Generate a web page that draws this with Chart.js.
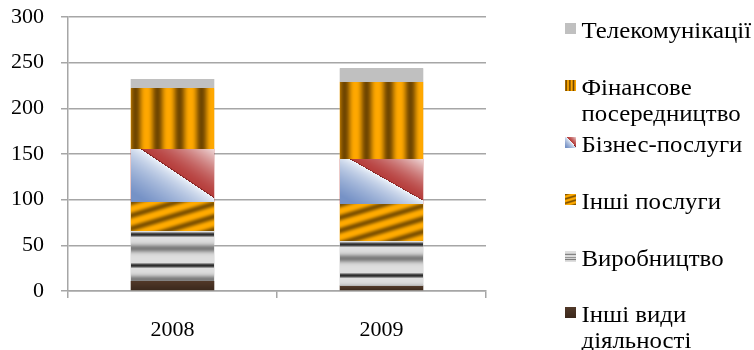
<!DOCTYPE html>
<html>
<head>
<meta charset="utf-8">
<script src="https://cdn.jsdelivr.net/npm/chart.js@4.4.1/dist/chart.umd.min.js"></script>
<style>
  html, body { margin: 0; padding: 0; background: #fff; }
  #wrap { width: 754px; height: 350px; position: relative; }
</style>
</head>
<body>
<div id="wrap"><canvas id="chart"></canvas></div>
<script>
// дані (читано з картинки)
const categories = ['2008', '2009'];
const otherActivities = [11, 6];
const manufacturing = [55, 49];
const otherServices = [31.5, 40];
const businessServices = [58.5, 50];
const finance = [66, 84];
const telecom = [10, 15];
const yTickValues = [0, 50, 100, 150, 200, 250, 300];

const seriesLabels = ['Інші види діяльності', 'Виробництво', 'Інші послуги', 'Бізнес-послуги', 'Фінансове посередництво', 'Телекомунікації'];
const legendLines = [['Інші види', 'діяльності'], ['Виробництво'], ['Інші послуги'], ['Бізнес-послуги'], ['Фінансове', 'посередництво'], ['Телекомунікації']];
const fillKinds = ['brown', 'hstripe', 'diag', 'split', 'vstripe', 'flat'];
const baseColors = ['#45301f', '#bdbdbd', '#f0a000', '#c0504d', '#e89a00', '#c0c0c0'];

const FONT = '"Liberation Serif", "Times New Roman", serif';
const GRID = '#a6a6a6';

function mix(a, b, t) {
    return [a[0] + (b[0] - a[0]) * t, a[1] + (b[1] - a[1]) * t, a[2] + (b[2] - a[2]) * t];
}

// колір пікселя для кожного типу заливки
function shade(kind, u, v, w, h, k) {
    if (kind === 'flat') return [192, 192, 192];
    if (kind === 'brown') return mix([80, 56, 40], [58, 40, 28], Math.min(1, v / Math.max(h, 1)));
    if (kind === 'hstripe') {
        const P = 31 / k;
        let p = ((v - 3 / k) % P + P) % P / P;
        const dp = Math.min(p, 1 - p) * P * k;
        const g = Math.exp(-Math.pow((p - 0.45) / 0.13, 2));
        let c = mix([222, 222, 222], [125, 125, 125], g);
        if (dp < 0.9) c = [45, 45, 45];
        else if (dp < 3) c = mix([70, 70, 70], c, (dp - 0.9) / 2.1);
        return c;
    }
    if (kind === 'diag') {
        const ph = (v + 0.3 * u) * k / 13;
        const c = 0.5 + 0.5 * Math.cos(2 * Math.PI * ph);
        return mix([255, 170, 0], [130, 84, 0], Math.pow(c, 1.4));
    }
    if (kind === 'vstripe') {
        const ph = (u - 4 / k) * k / 22;
        const c = 0.5 + 0.5 * Math.cos(2 * Math.PI * ph);
        return mix([255, 168, 0], [112, 70, 0], Math.pow(c, 1.3));
    }
    if (kind === 'split') {
        const t = (u / w - 0.12) / 0.88 - v / (0.92 * h);
        if (t > 0) {
            if (t < 0.03) return mix([120, 30, 30], [178, 62, 60], t / 0.03);
            return mix([182, 62, 60], [238, 215, 215], Math.pow(Math.min(t, 1), 1.5));
        }
        const s = Math.min(1, -t);
        return mix([244, 248, 252], [118, 146, 198], Math.pow(s, 0.65));
    }
    return [0, 0, 0];
}

function makeFill(kind, w, h, k) {
    w = Math.max(1, Math.round(w));
    h = Math.max(1, Math.round(h));
    const off = document.createElement('canvas');
    off.width = w; off.height = h;
    const octx = off.getContext('2d');
    const img = octx.createImageData(w, h);
    for (let v = 0; v < h; v++) {
        for (let u = 0; u < w; u++) {
            const c = shade(kind, u, v, w, h, k);
            const i = (v * w + u) * 4;
            img.data[i] = c[0]; img.data[i + 1] = c[1]; img.data[i + 2] = c[2]; img.data[i + 3] = 255;
        }
    }
    octx.putImageData(img, 0, 0);
    return off;
}

// перемальовуємо стовпчики текстурою поверх елементів Chart.js
const texturePlugin = {
    id: 'texture',
    afterDatasetsDraw(chart) {
        const ctx = chart.ctx;
        chart.data.datasets.forEach((ds, di) => {
            const meta = chart.getDatasetMeta(di);
            meta.data.forEach(el => {
                const p = el.getProps(['x', 'y', 'base', 'width'], true);
                const x0 = Math.round(p.x - p.width / 2);
                const x1 = Math.round(p.x + p.width / 2);
                const y0 = Math.round(Math.min(p.y, p.base));
                const y1 = Math.round(Math.max(p.y, p.base));
                if (y1 - y0 < 1) return;
                ctx.drawImage(makeFill(fillKinds[di], x1 - x0, y1 - y0, 1), x0, y0);
            });
        });
    }
};

// легенда праворуч
const legendScale = [1, 6, 3, 1, 6, 1];
const legendPlugin = {
    id: 'sideLegend',
    afterDraw(chart) {
        const ctx = chart.ctx;
        ctx.save();
        ctx.font = '23px ' + FONT;
        ctx.fillStyle = '#000';
        ctx.textBaseline = 'alphabetic';
        const n = legendLines.length;
        for (let j = 0; j < n; j++) {
            const di = n - 1 - j;
            const base = 38.3 + j * 56.8;
            ctx.drawImage(makeFill(fillKinds[di], 11, 11, legendScale[di]), 565, Math.round(base - 15));
            legendLines[di].forEach((line, li) => {
                ctx.save();
                ctx.translate(581.5, base + li * 26);
                ctx.scale(1.08, 1);
                ctx.fillText(line, 0, 0);
                ctx.restore();
            });
        }
        ctx.restore();
    }
};

const datasetValues = [otherActivities, manufacturing, otherServices, businessServices, finance, telecom];

new Chart(document.getElementById('chart').getContext('2d'), {
    type: 'bar',
    data: {
        labels: categories,
        datasets: datasetValues.map((vals, i) => ({
            label: seriesLabels[i],
            data: vals,
            backgroundColor: baseColors[i],
            borderWidth: 0,
            barPercentage: 0.4,
            categoryPercentage: 1
        }))
    },
    options: {
        responsive: true,
        maintainAspectRatio: false,
        animation: false,
        layout: { padding: { top: 17, right: 268, left: 0, bottom: 0 } },
        plugins: { legend: { display: false }, tooltip: { enabled: false } },
        scales: {
            x: {
                stacked: true,
                grid: { drawOnChartArea: false, tickLength: 7, color: GRID, lineWidth: 1.5 },
                border: { color: GRID, width: 1.5 },
                ticks: { color: '#000', font: { family: FONT, size: 22 }, padding: 19 },
                afterFit: s => { s.height = 59; }
            },
            y: {
                stacked: true,
                min: 0,
                max: 300,
                afterBuildTicks: s => { s.ticks = yTickValues.map(v => ({ value: v })); },
                grid: { tickLength: 7, color: GRID, lineWidth: 1.5 },
                border: { color: GRID, width: 1.5 },
                ticks: { color: '#000', font: { family: FONT, size: 22 }, padding: 17 },
                afterFit: s => { s.width = 68; s.paddingTop = 0; s.paddingBottom = 0; }
            }
        }
    },
    plugins: [texturePlugin, legendPlugin]
});
</script>
</body>
</html>
